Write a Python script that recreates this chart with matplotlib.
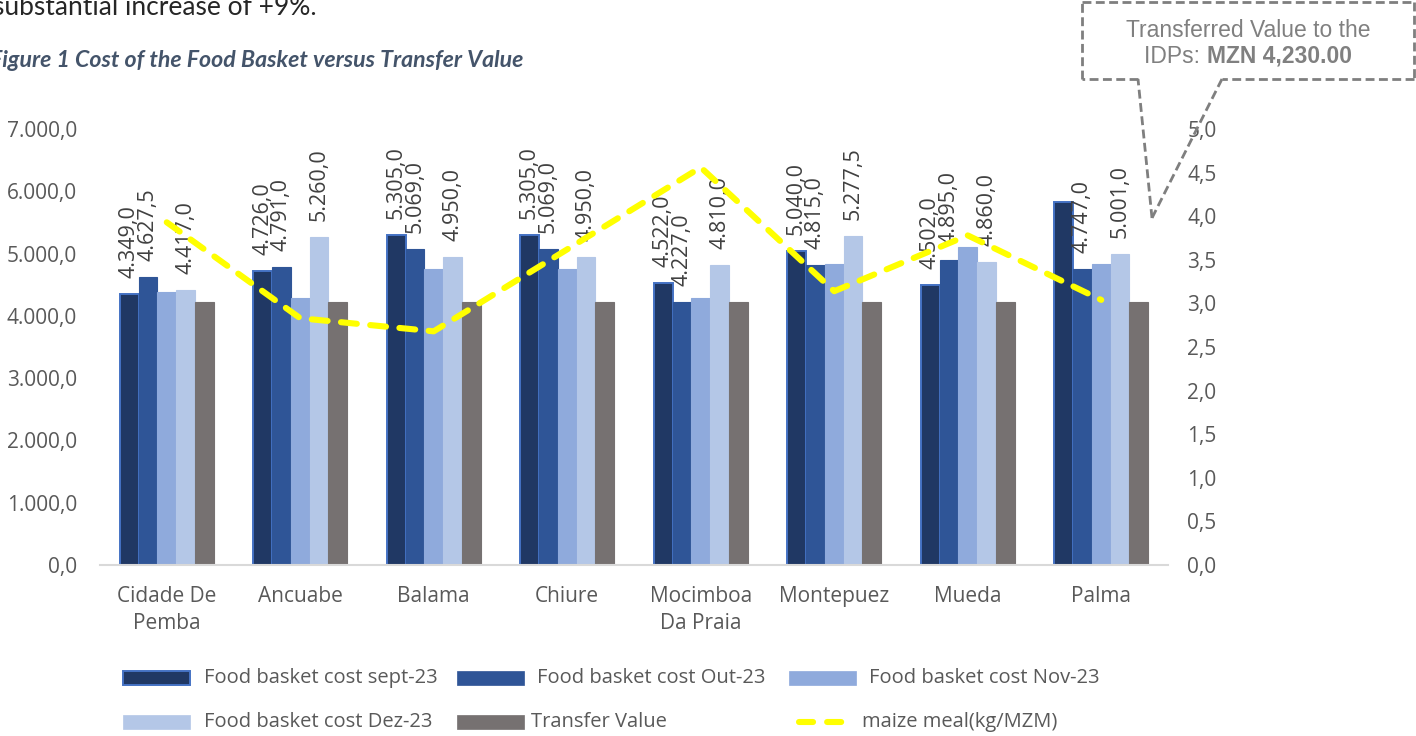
import matplotlib
matplotlib.use("Agg")
import matplotlib.pyplot as plt
import numpy as np
from matplotlib.patches import Rectangle
from matplotlib.lines import Line2D

# ---------------- data ----------------
categories = ["Cidade De\nPemba", "Ancuabe", "Balama", "Chiure", "Mocimboa\nDa Praia",
              "Montepuez", "Mueda", "Palma"]
cost_sep = [4349.0, 4726.0, 5305.0, 5305.0, 4522.0, 5040.0, 4502.0, 5830.0]
cost_out = [4627.5, 4791.0, 5069.0, 5069.0, 4227.0, 4815.0, 4895.0, 4747.0]
cost_nov = [4390.0, 4280.0, 4760.0, 4760.0, 4290.0, 4830.0, 5100.0, 4830.0]
cost_dez = [4417.0, 5260.0, 4950.0, 4950.0, 4810.0, 5277.5, 4860.0, 5001.0]
transfer = [4230.0] * 8
maize = [3.93, 2.83, 2.68, 3.62, 4.56, 3.14, 3.78, 3.04]

# which bars carry a data label
label_sep = [True, True, True, True, True, True, True, False]
label_out = [True] * 8
label_dez = [True] * 8

series_names = ["Food basket cost sept-23", "Food basket cost Out-23", "Food basket cost Nov-23",
                "Food basket cost Dez-23", "Transfer Value"]
line_name = "maize meal(kg/MZM)"
left_ticks = [0, 1000, 2000, 3000, 4000, 5000, 6000, 7000]
right_ticks = [0, 0.5, 1.0, 1.5, 2.0, 2.5, 3.0, 3.5, 4.0, 4.5, 5.0]

# ---------------- style ----------------
W, H = 1416, 736
colors = ["#203864", "#2F5597", "#8FAADC", "#B4C7E7", "#767171"]
edges = ["#4472C4", "#2F5597", "#8FAADC", "#B4C7E7", "#767171"]
yellow = "#FFFF00"
tick_col = "#595959"
lab_col = "#404040"
FONT = "Open Sans"

fig = plt.figure(figsize=(W / 100, H / 100), dpi=100)
L, R, B, T = 100, 1168, 565, 129
ax = fig.add_axes([L / W, 1 - B / H, (R - L) / W, (B - T) / H])

def fmt_left(v):
    s = f"{v:,.1f}"
    return s.replace(",", "X").replace(".", ",").replace("X", ".")

x = np.arange(len(categories))
bw = 0.141
all_series = [cost_sep, cost_out, cost_nov, cost_dez, transfer]
labels_flags = [label_sep, label_out, None, label_dez, None]
for j, vals in enumerate(all_series):
    xs = x + (j - 2) * bw
    lw = 1.4 if j == 0 else 0.8
    ax.bar(xs, vals, width=bw, color=colors[j], edgecolor=edges[j], linewidth=lw, zorder=2)
    flags = labels_flags[j]
    if flags is not None:
        for xi, v, f in zip(xs, vals, flags):
            if f:
                ax.annotate(fmt_left(v), xy=(xi, v), xytext=(0, 16), textcoords="offset pixels",
                            rotation=90, ha="center", va="bottom", fontsize=15.5,
                            color=lab_col, family=FONT, zorder=4)

ax.set_xlim(-0.5, len(categories) - 0.5)
ax.set_ylim(0, 7000)
ax.set_yticks(left_ticks)
ax.set_yticklabels([fmt_left(v) for v in left_ticks])
ax.set_xticks(x)
ax.set_xticklabels(categories, linespacing=1.4)
for sp in ["top", "right", "left"]:
    ax.spines[sp].set_visible(False)
ax.spines["bottom"].set_color("#D9D9D9")
ax.spines["bottom"].set_linewidth(1.5)
ax.tick_params(axis="y", length=0, pad=16.5, labelsize=15, labelcolor=tick_col)
ax.tick_params(axis="x", length=0, pad=15, labelsize=15, labelcolor=tick_col)
for t in ax.get_xticklabels() + ax.get_yticklabels():
    t.set_family(FONT)

ax2 = ax.twinx()
ax2.plot(x, maize, color=yellow, linewidth=4.4, linestyle=(0, (2.6, 2.2)),
         dash_capstyle="round", zorder=5)
ax2.set_ylim(0, 5)
ax2.set_yticks(right_ticks)
ax2.set_yticklabels([f"{v:.1f}".replace(".", ",") for v in right_ticks])
for sp in ["top", "right", "left", "bottom"]:
    ax2.spines[sp].set_visible(False)
ax2.tick_params(axis="y", length=0, pad=14, labelsize=15, labelcolor=tick_col)
for t in ax2.get_yticklabels():
    t.set_family(FONT)

# ---------------- figure texts ----------------
def fx(px):
    return px / W

def fy(py):
    return 1 - py / H

fig.text(fx(-7), fy(15), "substantial increase of +9%.", fontsize=19, family="Lato",
         color="#262626", va="baseline", ha="left")
fig.text(fx(-10), fy(67), "Figure 1 Cost of the Food Basket versus Transfer Value", fontsize=16.7,
         family="Lato", style="italic", weight="bold", color="#44546A", va="baseline", ha="left")

# callout
gray = "#7F7F7F"
dash = (0, (3.2, 1.6))
box_l, box_r, box_t, box_b = 1082, 1414, 2, 79
ptr_l, ptr_r, tip = 1138, 1222, (1152, 218)
segs = [
    [(box_l, box_b), (box_l, box_t)],
    [(box_l, box_t), (box_r, box_t)],
    [(box_r, box_t), (box_r, box_b)],
    [(box_r, box_b), (ptr_r, box_b)],
    [(ptr_r, box_b), tip],
    [tip, (ptr_l, box_b)],
    [(ptr_l, box_b), (box_l, box_b)],
]
for (a, b) in segs:
    fig.add_artist(Line2D([fx(a[0]), fx(b[0])], [fy(a[1]), fy(b[1])], color=gray,
                          linewidth=2.0, linestyle=dash, transform=fig.transFigure))

cx = 1248
fig.text(fx(cx), fy(37), "Transferred Value to the", fontsize=16.5, family="Liberation Sans",
         color="#808080", ha="center", va="baseline")
renderer = fig.canvas.get_renderer()
t1 = fig.text(0, 0, "IDPs: ", fontsize=16.5, family="Liberation Sans", color="#808080",
              ha="left", va="baseline")
t2 = fig.text(0, 0, "MZN 4,230.00", fontsize=16.5, family="Liberation Sans", color="#808080",
              weight="bold", ha="left", va="baseline")
w1 = t1.get_window_extent(renderer).width
w2 = t2.get_window_extent(renderer).width
start = cx - (w1 + w2) / 2
t1.set_position((fx(start), fy(63)))
t2.set_position((fx(start + w1), fy(63)))

# ---------------- legend (manual) ----------------
leg_items = [
    (0, 123, 678, 204),
    (1, 457, 678, 537),
    (2, 789, 678, 869),
    (3, 123, 722, 204),
    (4, 457, 722, 531),
]
for j, px0, py, tx in leg_items:
    fig.add_artist(Rectangle((fx(px0), fy(py + 7)), 67 / W, 14 / H, facecolor=colors[j],
                             edgecolor=edges[j], linewidth=1.4 if j == 0 else 0.5,
                             transform=fig.transFigure))
    fig.text(fx(tx), fy(py), series_names[j], fontsize=14.5, family=FONT, color=tick_col,
             ha="left", va="center")
fig.add_artist(Line2D([fx(799), fx(853)], [fy(722), fy(722)], color=yellow, linewidth=4.4,
                      linestyle=(0, (2.3, 2.3)), dash_capstyle="round",
                      transform=fig.transFigure))
fig.text(fx(862), fy(722), line_name, fontsize=14.5, family=FONT, color=tick_col,
         ha="left", va="center")

fig.savefig("out.png", dpi=100)
